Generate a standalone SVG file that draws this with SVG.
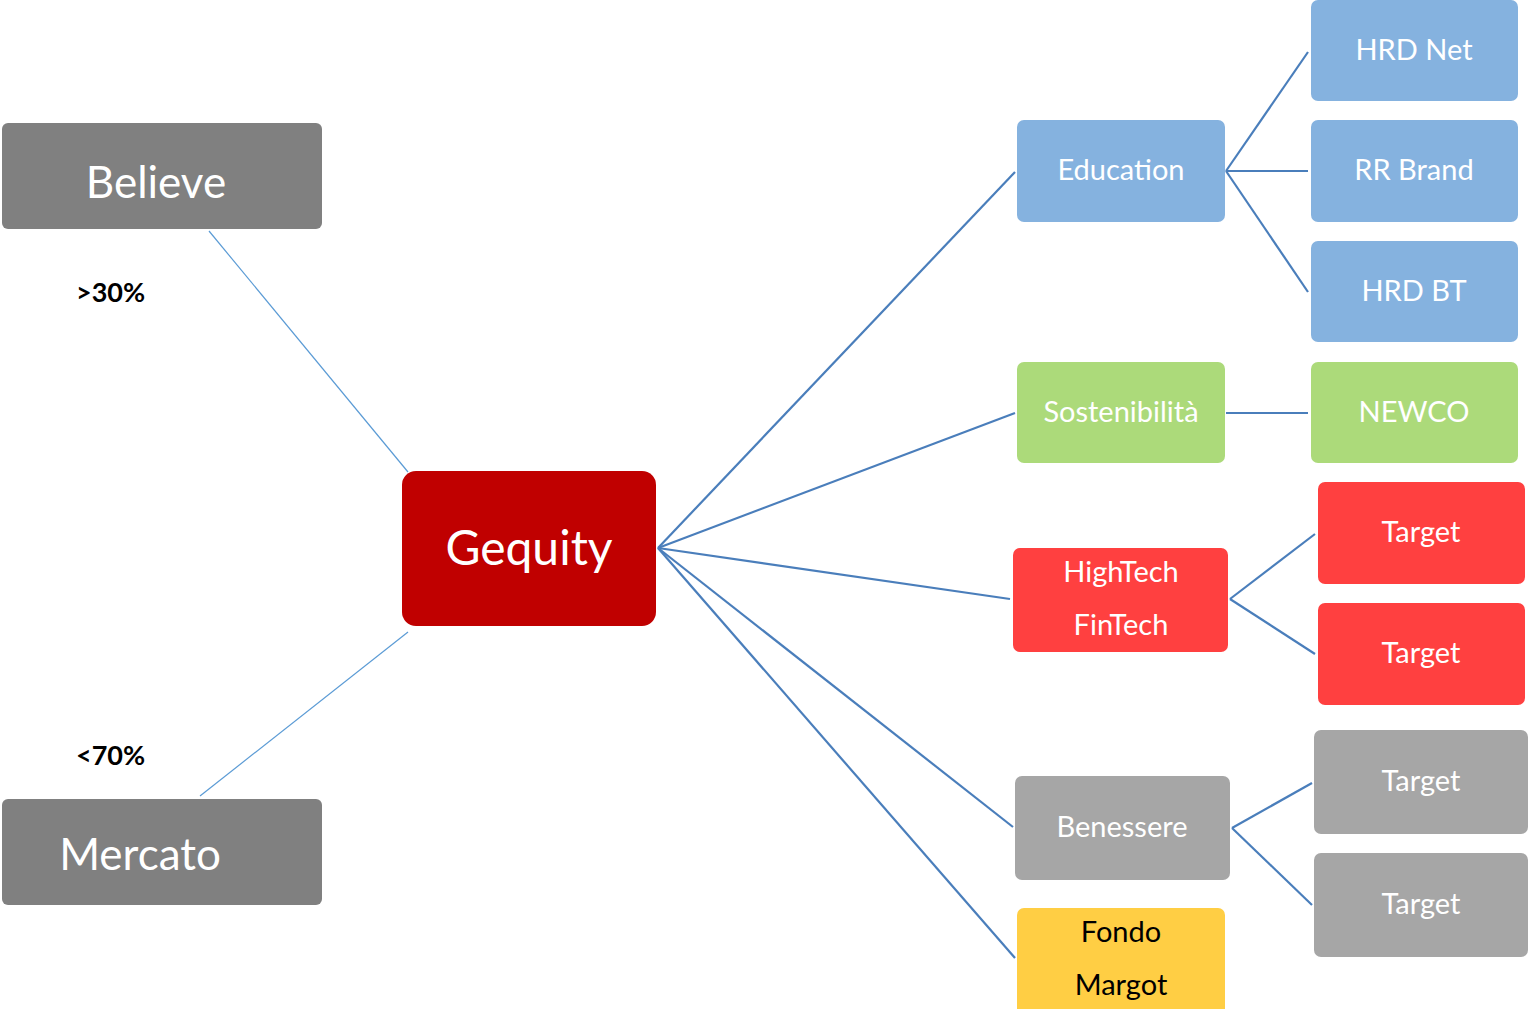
<svg xmlns="http://www.w3.org/2000/svg" width="1528" height="1009" viewBox="0 0 1528 1009">
<style>
.t{font-family:Lato,"Open Sans","Noto Sans",sans-serif;fill:#fff;text-anchor:middle}
.s{font-size:29px}
.pct{font-family:Lato,"Liberation Sans",sans-serif;font-weight:bold;font-size:27px;fill:#000}
.c1{stroke:#4A7EBB;stroke-width:2.2;fill:none}
.c2{stroke:#5B9BD5;stroke-width:1.2;fill:none}
.blue{fill:#85B2DF}.green{fill:#ACDA7A}.red{fill:#FF4040}.gray{fill:#A6A6A6}.dark{fill:#808080}
.blk{fill:#000}
</style>
<rect width="1528" height="1009" fill="#fff"/>
<g id="connectors">
<line class="c2" x1="209" y1="231" x2="408" y2="472"/>
<line class="c2" x1="200" y1="796" x2="408" y2="632"/>
<line class="c1" x1="658" y1="548" x2="1015" y2="172"/>
<line class="c1" x1="658" y1="548" x2="1015" y2="413"/>
<line class="c1" x1="658" y1="548" x2="1010" y2="599"/>
<line class="c1" x1="658" y1="548" x2="1013" y2="827"/>
<line class="c1" x1="658" y1="548" x2="1015" y2="958"/>
<line class="c1" x1="1226" y1="171" x2="1308" y2="52"/>
<line class="c1" x1="1226" y1="171" x2="1308" y2="171"/>
<line class="c1" x1="1226" y1="171" x2="1308" y2="292"/>
<line class="c1" x1="1226" y1="413" x2="1308" y2="413"/>
<line class="c1" x1="1230" y1="599" x2="1315" y2="534"/>
<line class="c1" x1="1230" y1="599" x2="1315" y2="654"/>
<line class="c1" x1="1232" y1="828" x2="1312" y2="783"/>
<line class="c1" x1="1232" y1="828" x2="1312" y2="905"/>
</g>
<g id="believe"><rect class="dark" x="2" y="123" width="320" height="106" rx="6"/><text class="t" x="156" y="198" font-size="44">Believe</text></g>
<g id="mercato"><rect class="dark" x="2" y="799" width="320" height="106" rx="6"/><text class="t" x="140" y="870" font-size="44">Mercato</text></g>
<text class="pct" x="76" y="302">&gt;30%</text>
<text class="pct" x="76" y="765">&lt;70%</text>
<g id="gequity"><rect x="402" y="471" width="254" height="155" rx="14" fill="#C00000"/><text class="t" x="529" y="565" font-size="48">Gequity</text></g>
<g id="education"><rect class="blue" x="1017" y="120" width="208" height="102" rx="7"/><text class="t s" x="1121" y="180">Education</text></g>
<g id="hrdnet"><rect class="blue" x="1311" y="0" width="207" height="101" rx="7"/><text class="t s" x="1414" y="60">HRD Net</text></g>
<g id="rrbrand"><rect class="blue" x="1311" y="120" width="207" height="102" rx="7"/><text class="t s" x="1414" y="180">RR Brand</text></g>
<g id="hrdbt"><rect class="blue" x="1311" y="241" width="207" height="101" rx="7"/><text class="t s" x="1414" y="301">HRD BT</text></g>
<g id="sostenibilita"><rect class="green" x="1017" y="362" width="208" height="101" rx="7"/><text class="t s" x="1121" y="422">Sostenibilità</text></g>
<g id="newco"><rect class="green" x="1311" y="362" width="207" height="101" rx="7"/><text class="t s" x="1414" y="422">NEWCO</text></g>
<g id="hightech"><rect class="red" x="1013" y="548" width="215" height="104" rx="7"/><text class="t s" x="1121" y="582">HighTech</text><text class="t s" x="1121" y="635">FinTech</text></g>
<g id="target1"><rect class="red" x="1318" y="482" width="207" height="102" rx="7"/><text class="t s" x="1421" y="542">Target</text></g>
<g id="target2"><rect class="red" x="1318" y="603" width="207" height="102" rx="7"/><text class="t s" x="1421" y="663">Target</text></g>
<g id="benessere"><rect class="gray" x="1015" y="776" width="215" height="104" rx="7"/><text class="t s" x="1122" y="837">Benessere</text></g>
<g id="target3"><rect class="gray" x="1314" y="730" width="214" height="104" rx="7"/><text class="t s" x="1421" y="791">Target</text></g>
<g id="target4"><rect class="gray" x="1314" y="853" width="214" height="104" rx="7"/><text class="t s" x="1421" y="914">Target</text></g>
<g id="fondo"><rect x="1017" y="908" width="208" height="110" rx="7" fill="#FFCE44"/><text class="t s blk" x="1121" y="942">Fondo</text><text class="t s blk" x="1121" y="995">Margot</text></g>
</svg>
